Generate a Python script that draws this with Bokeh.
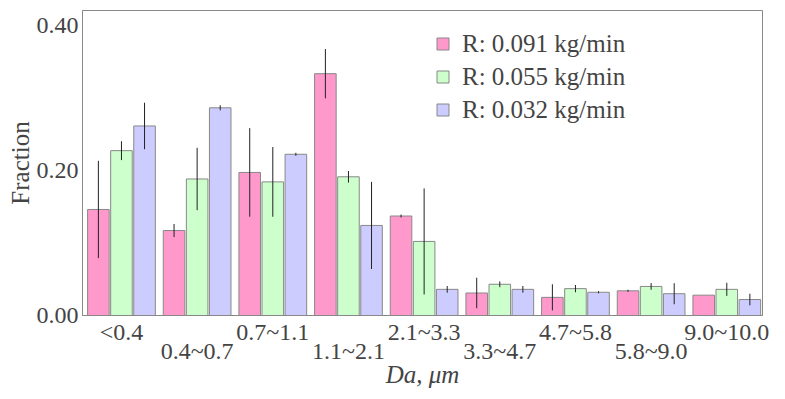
import numpy as np
from bokeh.plotting import figure
from bokeh.models import Range1d, LinearAxis, FixedTicker, PrintfTickFormatter, Legend, LegendItem
from bokeh.embed import file_html
from bokeh.resources import INLINE

categories = ["<0.4", "0.4~0.7", "0.7~1.1", "1.1~2.1", "2.1~3.3",
              "3.3~4.7", "4.7~5.8", "5.8~9.0", "9.0~10.0"]
series_names = ["R: 0.091 kg/min", "R: 0.055 kg/min", "R: 0.032 kg/min"]
r091 = [0.146, 0.117, 0.197, 0.333, 0.137, 0.031, 0.025, 0.034, 0.028]
r055 = [0.227, 0.188, 0.184, 0.191, 0.102, 0.043, 0.037, 0.040, 0.036]
r032 = [0.261, 0.286, 0.222, 0.124, 0.036, 0.036, 0.032, 0.030, 0.022]
err091 = [0.067, 0.009, 0.061, 0.034, 0.002, 0.021, 0.018, 0.0015, 0.0]
err055 = [0.013, 0.043, 0.048, 0.008, 0.073, 0.004, 0.005, 0.0046, 0.009]
err032 = [0.032, 0.0035, 0.002, 0.060, 0.0046, 0.0046, 0.0015, 0.0145, 0.008]
yticks = [0.0, 0.2, 0.4]

colors = ["#FF99CC", "#CCFFCC", "#CCCCFF"]
offsets = [-0.305, 0.0, 0.305]
FONT = "Liberation Serif"
GRAY = "#888888"

p = figure(width=785, height=399, output_backend="svg", toolbar_location=None,
           x_axis_type=None, y_axis_type=None,
           x_range=Range1d(-0.015, 8.972), y_range=Range1d(0, 0.42),
           min_border_left=82, min_border_right=23, min_border_top=10, min_border_bottom=84)
p.grid.visible = False
p.outline_line_color = GRAY
p.outline_line_width = 1
p.background_fill_color = "white"
p.border_fill_color = "white"

centers = np.arange(len(categories)) + 0.5
items = []
for vals, errs, col, off, name in zip([r091, r055, r032], [err091, err055, err032],
                                      colors, offsets, series_names):
    x = centers + off
    v = np.array(vals)
    e = np.array(errs)
    r = p.vbar(x=x, top=v, width=0.285, bottom=0, fill_color=col, line_color=GRAY, line_width=1)
    p.segment(x0=x, y0=v - e, x1=x, y1=v + e, line_color="#222222", line_width=1)
    items.append(LegendItem(label=name, renderers=[r]))

legend = Legend(items=items, location=(353, 191))
legend.label_text_font = FONT
legend.label_text_font_size = "25px"
legend.label_height = 29
legend.glyph_width = 15
legend.glyph_height = 15
legend.label_standoff = 12
legend.spacing = 4
legend.padding = 0
legend.margin = 0
legend.border_line_color = None
legend.background_fill_alpha = 0
p.add_layout(legend, "center")

# y axis
yax = LinearAxis(ticker=FixedTicker(ticks=yticks), formatter=PrintfTickFormatter(format="%.2f"))
yax.axis_label = "Fraction"
yax.axis_label_text_font = FONT
yax.axis_label_text_font_size = "25px"
yax.axis_label_text_font_style = "normal"
yax.axis_label_standoff = 0
yax.major_label_text_font = FONT
yax.major_label_text_font_size = "24px"
yax.major_label_standoff = 4
yax.major_tick_out = 0
yax.major_tick_in = 0
yax.minor_tick_out = 0
yax.minor_tick_in = 0
yax.axis_line_color = GRAY
p.add_layout(yax, "left")

# x axes: staggered labels
upper_idx = list(range(0, len(categories), 2))
lower_idx = list(range(1, len(categories), 2))

xax1 = LinearAxis(ticker=FixedTicker(ticks=[float(centers[i]) for i in upper_idx]))
xax1.major_label_overrides = {float(centers[i]): categories[i] for i in upper_idx}
xax2 = LinearAxis(ticker=FixedTicker(ticks=[float(centers[i]) for i in lower_idx]))
xax2.major_label_overrides = {float(centers[i]): categories[i] for i in lower_idx}
for ax in (xax1, xax2):
    ax.major_label_text_font = FONT
    ax.major_label_text_font_size = "24px"
    ax.major_tick_out = 0
    ax.major_tick_in = 0
    ax.minor_tick_out = 0
    ax.minor_tick_in = 0
xax1.axis_line_color = GRAY
xax1.major_label_standoff = 3
xax2.axis_line_color = None
xax2.major_label_standoff = -10
xax2.axis_label = "Da, μm"
xax2.axis_label_text_font = FONT
xax2.axis_label_text_font_size = "25px"
xax2.axis_label_text_font_style = "italic"
xax2.axis_label_standoff = -6
p.add_layout(xax1, "below")
p.add_layout(xax2, "below")

open("out.html", "w").write(file_html(p, INLINE))
